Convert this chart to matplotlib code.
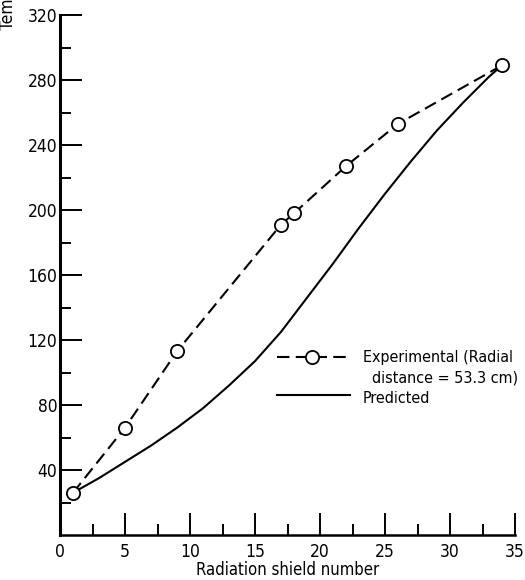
import matplotlib
matplotlib.use("Agg")
import matplotlib.pyplot as plt
import numpy as np

plt.rcParams["font.family"] = ["DejaVu Sans"]
plt.rcParams["font.stretch"] = "condensed"
plt.rcParams["lines.scale_dashes"] = False

# Measured temperatures along the shield stack
shield_exp = [1, 5, 9, 17, 18, 22, 26, 34]
temp_exp = [26, 66, 113, 191, 198, 227, 253, 289]

# Predicted temperature profile
shield_pred = [1, 3, 5, 7, 9, 11, 13, 15, 17, 19, 21, 23, 25, 27, 29, 31, 33, 34]
temp_pred = [26, 35, 45, 55, 66, 78, 92, 107, 125, 146, 167, 189, 210, 230, 249, 266, 282, 289]

x_major = np.arange(0, 36, 5)
x_minor = np.arange(2.5, 35, 5)
y_major = np.arange(40, 321, 40)
y_minor = np.arange(20, 320, 40)

fig = plt.figure(figsize=(5.25, 5.8), dpi=100)
ax = fig.add_axes([60 / 525, 45 / 580, 455 / 525, 520 / 580])

dash = (9, 4.5)
ax.plot(shield_pred, temp_pred, color="black", lw=1.5,
        solid_joinstyle="round", solid_capstyle="round")
ax.plot(shield_exp, temp_exp, color="black", lw=1.5, dashes=dash,
        marker="o", ms=9.5, mfc="white", mec="black", mew=1.3)

ax.set_xlim(0, 35)
ax.set_ylim(0, 320)
for side in ["top", "right"]:
    ax.spines[side].set_visible(False)
ax.spines["left"].set_linewidth(2.2)
ax.spines["bottom"].set_linewidth(1.8)

ax.set_xticks(x_major)
ax.set_xticks(x_minor, minor=True)
ax.set_yticks(y_major)
ax.set_yticks(y_minor, minor=True)
ax.tick_params(which="major", direction="in", length=16, width=1.4, labelsize=12.5)
ax.tick_params(which="minor", direction="in", length=8, width=1.4)
ax.tick_params(axis="x", pad=6)
ax.tick_params(axis="y", pad=2)

ax.set_xlabel("Radiation shield number", fontsize=12, labelpad=0)
fig.text(8 / 525, 1 - 30 / 580, "Temperature, K", rotation=90,
         rotation_mode="anchor", ha="left", va="center", fontsize=12.5)

# key drawn inside the axes
tr = ax.transAxes
ax.plot([0.477, 0.637], [0.342, 0.342], transform=tr, color="black", lw=1.5,
        dashes=dash, clip_on=False)
ax.plot([0.554], [0.342], transform=tr, marker="o", ms=9.5, mfc="white",
        mec="black", mew=1.3, clip_on=False)
ax.plot([0.477, 0.637], [0.269, 0.269], transform=tr, color="black", lw=1.5,
        clip_on=False)
ax.text(0.666, 0.342, "Experimental (Radial", transform=tr, va="center", fontsize=11.5)
ax.text(0.686, 0.302, "distance = 53.3 cm)", transform=tr, va="center", fontsize=11.5)
ax.text(0.666, 0.262, "Predicted", transform=tr, va="center", fontsize=11.5)

fig.savefig("out.png", dpi=100)
